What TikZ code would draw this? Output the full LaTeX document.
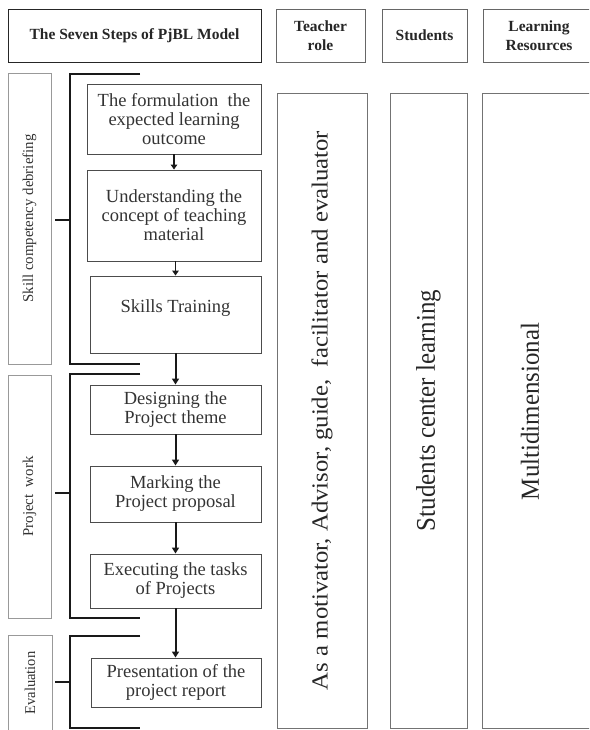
\documentclass[tikz,border=0pt]{standalone}
\usepackage{fontspec}
\setmainfont{Liberation Serif}
\usetikzlibrary{arrows.meta}
\newcommand\fitlen[3]{\resizebox{#1}{\height}{\fontsize{#2}{#2}\selectfont #3}}
\begin{document}
\begin{tikzpicture}[x=1pt,y=-1pt,
  hdr/.style={draw=black!60, line width=0.9pt, inner sep=0pt, font=\fontsize{15.5}{19}\selectfont\bfseries, text=black!85, align=center},
  stepbox/.style={draw=black!70, line width=0.9pt, inner sep=0pt, font=\fontsize{18.5}{19}\selectfont, text=black!80, align=center},
  sidebox/.style={draw=black!40, line width=0.8pt, inner sep=0pt, rotate=90, text=black!80},
  colbox/.style={draw=black!55, line width=0.9pt, inner sep=0pt, rotate=90, text=black!85},
  brk/.style={line width=2.4pt, draw=black!90},
  arr/.style={line width=2pt, draw=black!90, -{Triangle[width=7pt,length=6pt]}},
  arrs/.style={line width=1.7pt, draw=black!90, -{Triangle[width=6.5pt,length=5pt]}}]
\useasboundingbox (0,0) rectangle (589,730);
\clip (0,0) rectangle (589,730);
% header
\node[hdr, draw=black!85, minimum width=253pt, minimum height=53pt] (h1) at (134.5,36) {The Seven Steps of PjBL Model};
\node[hdr, minimum width=89pt, minimum height=53pt] (h2) at (320.5,35.5) {Teacher\\role};
\node[hdr, minimum width=85pt, minimum height=53pt] (h3) at (424.5,35.5) {Students};
\node[hdr, minimum width=130pt, minimum height=53pt] (h4) at (548,35.5) {\hspace*{-18pt}Learning\\\hspace*{-18pt}Resources};
% columns
\node[colbox, minimum width=635pt, minimum height=90pt] (c1) at (322,410.5)
  {\fitlen{559pt}{23}{As a motivator, Advisor, guide,\ \ facilitator and evaluator}};
\node[colbox, minimum width=635pt, minimum height=77pt] (c2) at (428.5,410.5)
  {\fitlen{241pt}{27}{Students center learning}};
\node[colbox, minimum width=635pt, minimum height=131pt] (c3) at (547.5,410.5)
  {\raisebox{0pt}{\hspace*{0pt}}};
\node[rotate=90, text=black!85, inner sep=0pt] (c3t) at (530,411.5)
  {\fitlen{177pt}{26}{Multidimensional}};
% side boxes
\node[sidebox, minimum width=291pt, minimum height=43pt] (s1) at (29.5,218.5)
  {\fitlen{168pt}{15}{Skill competency debriefing}};
\node[sidebox, minimum width=243pt, minimum height=43pt] (s2) at (29.5,496.5)
  {\fitlen{80pt}{15}{Project\ \ work}};
\node[sidebox, minimum width=96pt, minimum height=44pt] (s3) at (30,683)
  {\fitlen{63pt}{15}{Evaluation}};
% steps
\node[stepbox, minimum width=174pt, minimum height=70pt] (b1) at (174,119) {The formulation\ \ the\\expected learning\\outcome};
\node[stepbox, minimum width=174pt, minimum height=91pt] (b2) at (174,215.5) {Understanding the\\concept of teaching\\material};
\node[stepbox, minimum width=171pt, minimum height=77pt, text depth=16pt] (b3) at (175.5,314.5) {Skills Training};
\node[stepbox, minimum width=171pt, minimum height=49pt] (b4) at (175.5,409.5) {Designing the\\Project theme};
\node[stepbox, minimum width=171pt, minimum height=56pt] (b5) at (175.5,494) {Marking the\\Project proposal};
\node[stepbox, minimum width=171pt, minimum height=54pt] (b6) at (175.5,581) {Executing the tasks\\of Projects};
\node[stepbox, minimum width=170pt, minimum height=49pt] (b7) at (176,682.5) {Presentation of the\\project report};
% arrows
\draw[arrs] (b1.south) -- (b1.south |- b2.north);
\draw[arrs] (b2.south -| b3) -- (b3.north);
\draw[arr] (b3.south) -- (b3.south |- b4.north);
\draw[arr] (b4.south) -- (b4.south |- b5.north);
\draw[arr] (b5.south) -- (b5.south |- b6.north);
\draw[arr] (b6.south) -- (b6.south |- b7.north);
% brackets
\draw[brk] (140,74) -- (70,74) -- (70,364) -- (140,364);
\draw[brk] (s1.south) ++(4,1.5) -- (70,220);
\draw[brk] (140,374) -- (70,374) -- (70,618) -- (140,618);
\draw[brk] (s2.south) ++(4,-3.5) -- (70,493);
\draw[brk] (140,636) -- (70,636) -- (70,728) -- (140,728);
\draw[brk] (s3.south) ++(3,-1) -- (70,682);
\end{tikzpicture}
\end{document}
